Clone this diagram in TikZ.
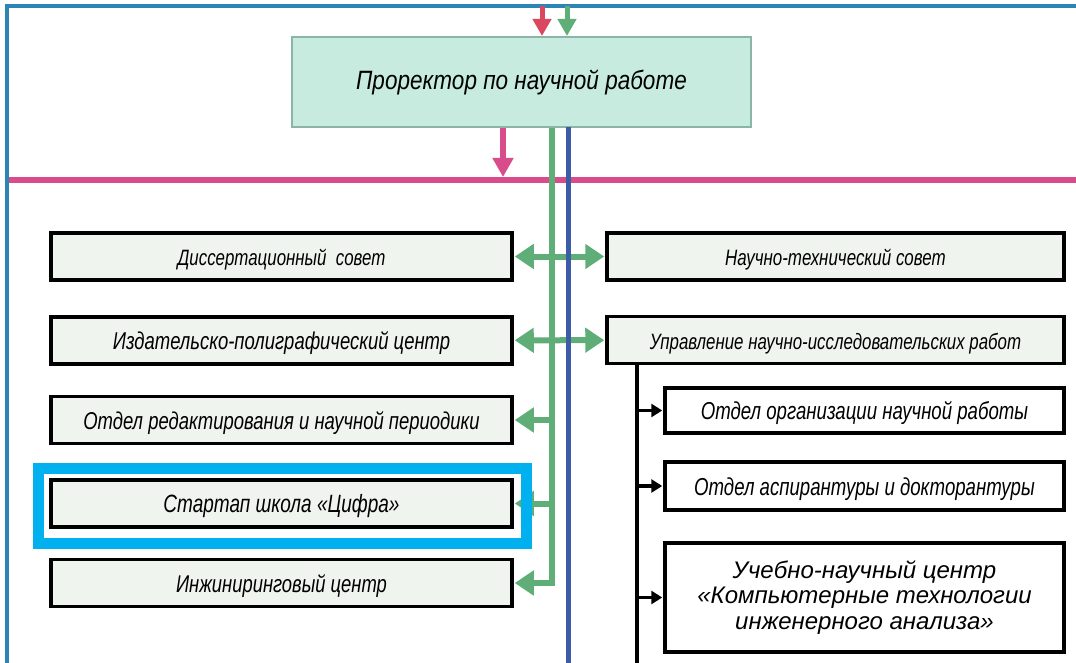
\documentclass[tikz,border=0pt]{standalone}
\usepackage{fontspec}
\setmainfont{Liberation Sans}
\newfontfamily\narrowfont[FakeStretch=0.76]{Liberation Sans}
\newfontfamily\topfont[FakeStretch=0.85]{Liberation Sans}
\newcommand{\bxfont}[1]{\narrowfont\itshape\fontsize{#1}{#1}\selectfont}
\usepackage{tikz}
\usetikzlibrary{arrows.meta}
\definecolor{framecol}{HTML}{2C85B5}
\definecolor{buscol}{HTML}{D94C8B}
\definecolor{redcol}{HTML}{D9485F}
\definecolor{grcol}{HTML}{5FAE77}
\definecolor{blcol}{HTML}{3C5CA6}
\definecolor{topfill}{HTML}{C7ECDF}
\definecolor{topdraw}{HTML}{8CB5A9}
\definecolor{boxfill}{HTML}{EFF4EE}
\definecolor{hlcol}{HTML}{00B0EF}
\tikzstyle{ub}=[shape=rectangle,draw,line width=3.5pt,fill=boxfill,minimum height=47pt,inner sep=0pt,text height=23pt,text depth=5pt,font=\bxfont{24}]
\tikzstyle{lb}=[ub,minimum width=461pt]
\tikzstyle{rb}=[ub,minimum width=457pt]
\tikzstyle{sb}=[ub,fill=white,minimum width=399pt]
\tikzstyle{both}=[{Triangle[length=19pt,width=24pt]}-{Triangle[length=19pt,width=24pt]},line width=6pt,grcol,shorten <=1pt,shorten >=1pt]
\tikzstyle{gto}=[-{Triangle[length=19pt,width=24pt]},line width=6pt,grcol,shorten >=1pt]
\tikzstyle{bto}=[-{Triangle[length=11pt,width=13pt]},line width=3.5pt,black,shorten >=1pt]

\begin{document}
\begin{tikzpicture}[x=1pt,y=-1pt]
        \useasboundingbox (0,0) rectangle (1076,663);
        % frame and bus
        \draw[framecol,line width=4pt] (7,663) -- (7,6) -- (1076,6);
        \draw[buscol,line width=6.5pt] (9,180) -- (1076,180);

        \node[draw=topdraw,line width=2pt,fill=topfill,minimum width=459pt,minimum height=90pt,
              font=\topfont\itshape\fontsize{26.5}{28}\selectfont] (P) at (521.5,82) {Проректор по научной работе};
        \coordinate (rin) at (542,6);
        \coordinate (gin) at (567,6);
        \draw[-{Triangle[length=17pt,width=18pt]},line width=5pt,redcol] (rin) -- (rin |- P.north);
        \draw[-{Triangle[length=17pt,width=18pt]},line width=5pt,grcol] (gin) -- (gin |- P.north);
        \coordinate (bus) at (503,177);
        \draw[-{Triangle[length=19pt,width=20pt]},line width=6pt,buscol] (bus |- P.south) -- (bus);

        % left column
        \node[lb,font=\bxfont{22.2}] (L1) at (281.5,256.5) {Диссертационный\ \ совет};
        \node[lb,font=\bxfont{24.3}] (L2) at (281.5,340.5) {Издательско-полиграфический центр};
        \node[lb,font=\bxfont{24.3}] (L3) at (281.5,420) {Отдел редактирования и научной периодики};
        \node[lb,font=\bxfont{25}] (L4) at (281.5,503.5) {Стартап школа «Цифра»};
        \node[lb,font=\bxfont{24.2}] (L5) at (281.5,583) {Инжиниринговый центр};

        % right column
        \node[rb,font=\bxfont{22.3}] (R1) at (835.5,256.5) {Научно-технический совет}
            edge[both] (L1)
        ;
        \node[rb,font=\bxfont{22.2}] (R2) at (835.5,340) {Управление научно-исследовательских работ}
            edge[both] (L2)
        ;
        \node[sb,minimum height=45pt,font=\bxfont{24.5}] (S1) at (864.5,410.5) {Отдел организации научной работы};
        \node[sb,minimum height=48pt,font=\bxfont{24.5}] (S2) at (864.5,486) {Отдел аспирантуры и докторантуры};
        \node[draw,line width=3.5pt,fill=white,minimum width=399pt,minimum height=109pt,inner sep=0pt,
              align=center,font=\itshape\fontsize{24}{25.5}\selectfont] (S3) at (864.5,597.5)
            {Учебно-научный центр\\«Компьютерные технологии\\инженерного анализа»};

        % green trunk
        \coordinate (g3) at (552,420);
        \coordinate (g4) at (552,503.5);
        \coordinate (g5) at (552,583);
        \draw[gto] (g3) -- (L3);
        \draw[gto] (g4) -- (L4);
        \draw[gto] (P.south -| g5) -- (g5) -- (L5);
        \draw[blcol,line width=5pt] (568,127) -- (568,663);

        % black trunk
        \coordinate (tb) at (637,663);
        \draw[line width=3.5pt] (R2.south -| tb) -- (tb);
        \draw[bto] (S1.west -| tb) -- (S1);
        \draw[bto] (S2.west -| tb) -- (S2);
        \draw[bto] (S3.west -| tb) -- (S3);

        % highlight
        \node[draw=hlcol,line width=11pt,minimum width=488pt,minimum height=75pt] (H) at (282,505.5) {};
    \end{tikzpicture}
\end{document}
